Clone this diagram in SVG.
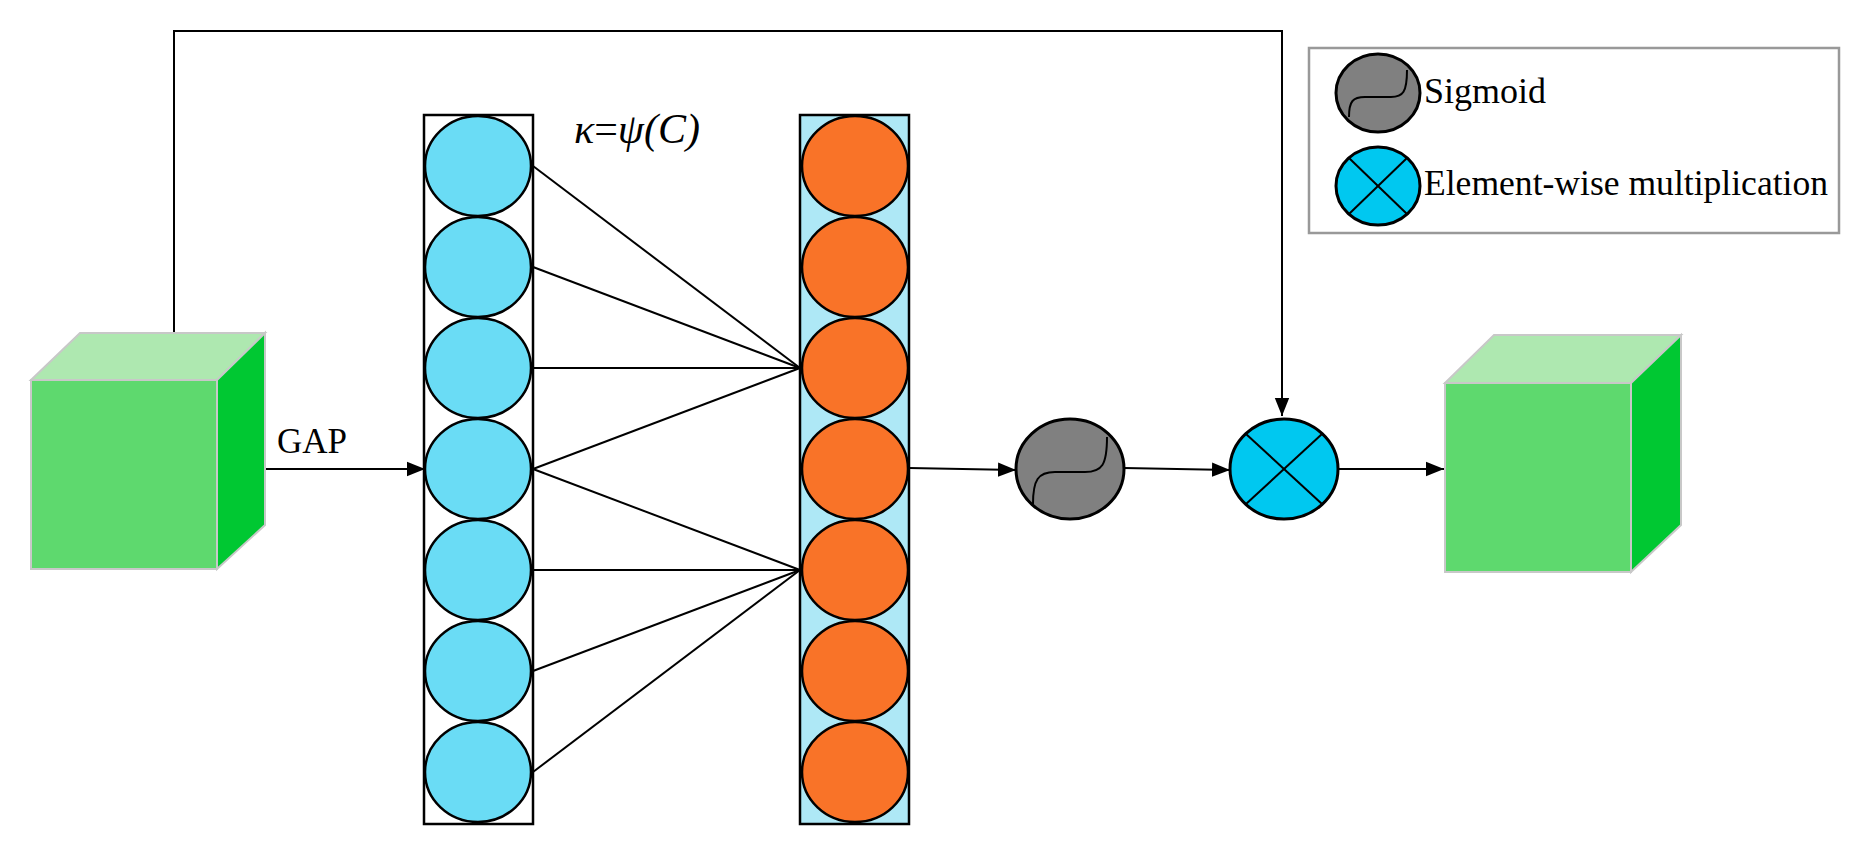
<svg xmlns="http://www.w3.org/2000/svg" width="1868" height="848" viewBox="0 0 1868 848">
<defs>
<marker id="ah2" viewBox="0 0 10 10" refX="10" refY="5" markerWidth="18" markerHeight="18" markerUnits="userSpaceOnUse" orient="auto"><path d="M0,1 L10,5 L0,9 z" fill="#000"/></marker>
</defs>
<style>
.t{font-family:"Liberation Serif","Times New Roman",serif;fill:#000}
.front{fill:#5ed96e;stroke:#c8c8c8;stroke-width:2}
.top{fill:#aee8b0;stroke:#c8c8c8;stroke-width:2}
.side{fill:#00c832;stroke:#c8c8c8;stroke-width:2}
.bc{fill:#6adcf5;stroke:#000;stroke-width:2.5}
.oc{fill:#f97328;stroke:#000;stroke-width:2.5}
.ln{stroke:#000;stroke-width:2;fill:none}
.sig{fill:#808080;stroke:#000;stroke-width:3}
.mul{fill:#00c8f0;stroke:#000;stroke-width:3}
</style>
<rect width="1868" height="848" fill="#fff"/>
<g id="connectors">
<polyline class="ln" points="174,333 174,31 1282,31 1282,416" marker-end="url(#ah2)"/>
<line class="ln" x1="217" y1="469" x2="425" y2="469" marker-end="url(#ah2)"/>
<line class="ln" x1="909" y1="468" x2="1016" y2="470" marker-end="url(#ah2)"/>
<line class="ln" x1="1124" y1="468" x2="1230" y2="470" marker-end="url(#ah2)"/>
<line class="ln" x1="1338" y1="469" x2="1444" y2="469" marker-end="url(#ah2)"/>
</g>
<g id="input-cube">
<polygon class="top" points="31,380 80,333 265,333 217,380"/>
<polygon class="side" points="217,380 265,333 265,525 217,569"/>
<rect class="front" x="31" y="380" width="186" height="189"/>
</g>
<text class="t" x="277" y="453" font-size="35">GAP</text>
<g id="input-layer">
<rect x="424" y="115" width="109" height="709" fill="#fff" stroke="#000" stroke-width="2.5"/>
<ellipse class="bc" cx="478" cy="166" rx="53" ry="50"/>
<ellipse class="bc" cx="478" cy="267" rx="53" ry="50"/>
<ellipse class="bc" cx="478" cy="368" rx="53" ry="50"/>
<ellipse class="bc" cx="478" cy="469" rx="53" ry="50"/>
<ellipse class="bc" cx="478" cy="570" rx="53" ry="50"/>
<ellipse class="bc" cx="478" cy="671" rx="53" ry="50"/>
<ellipse class="bc" cx="478" cy="772" rx="53" ry="50"/>
</g>
<g id="output-layer">
<rect x="800" y="115" width="109" height="709" fill="#aee8f6" stroke="#000" stroke-width="2.5"/>
<ellipse class="oc" cx="855" cy="166" rx="53" ry="50"/>
<ellipse class="oc" cx="855" cy="267" rx="53" ry="50"/>
<ellipse class="oc" cx="855" cy="368" rx="53" ry="50"/>
<ellipse class="oc" cx="855" cy="469" rx="53" ry="50"/>
<ellipse class="oc" cx="855" cy="570" rx="53" ry="50"/>
<ellipse class="oc" cx="855" cy="671" rx="53" ry="50"/>
<ellipse class="oc" cx="855" cy="772" rx="53" ry="50"/>
</g>
<g id="weights">
<line class="ln" x1="533" y1="166" x2="800" y2="368"/>
<line class="ln" x1="533" y1="267" x2="800" y2="368"/>
<line class="ln" x1="533" y1="368" x2="800" y2="368"/>
<line class="ln" x1="533" y1="469" x2="800" y2="368"/>
<line class="ln" x1="533" y1="469" x2="800" y2="570"/>
<line class="ln" x1="533" y1="570" x2="800" y2="570"/>
<line class="ln" x1="533" y1="671" x2="800" y2="570"/>
<line class="ln" x1="533" y1="772" x2="800" y2="570"/>
</g>
<text class="t" x="574" y="143" font-size="42" font-style="italic">κ<tspan font-style="normal">=</tspan>ψ(C)</text>
<g id="sigmoid">
<ellipse class="sig" cx="1070" cy="469" rx="54" ry="50"/>
<path class="ln" stroke-width="3" d="M1033,504 C1033,480 1038,472 1055,472 L1085,472 C1102,472 1107,465 1107,437"/>
</g>
<g id="multiply">
<ellipse class="mul" cx="1284" cy="469" rx="54" ry="50"/>
<line class="ln" stroke-width="3" x1="1246" y1="434" x2="1322" y2="504"/>
<line class="ln" stroke-width="3" x1="1322" y1="434" x2="1246" y2="504"/>
</g>
<g id="output-cube">
<polygon class="top" points="1445,383 1494,335 1681,335 1631,383"/>
<polygon class="side" points="1631,383 1681,335 1681,525 1631,572"/>
<rect class="front" x="1445" y="383" width="186" height="189"/>
</g>
<g id="legend">
<rect x="1309" y="48" width="530" height="185" fill="#fff" stroke="#999" stroke-width="2.5"/>
<ellipse class="sig" cx="1378" cy="93" rx="42" ry="39"/>
<path class="ln" stroke-width="3" d="M1349,117 C1349,101 1353,97 1365,97 L1391,97 C1403,97 1407,92 1407,70"/>
<text class="t" x="1424" y="103" font-size="36">Sigmoid</text>
<ellipse class="mul" cx="1378" cy="186" rx="42" ry="39"/>
<line class="ln" stroke-width="3" x1="1349" y1="158" x2="1407" y2="214"/>
<line class="ln" stroke-width="3" x1="1407" y1="158" x2="1349" y2="214"/>
<text class="t" x="1424" y="195" font-size="36" textLength="404" lengthAdjust="spacingAndGlyphs">Element-wise multiplication</text>
</g>
</svg>
